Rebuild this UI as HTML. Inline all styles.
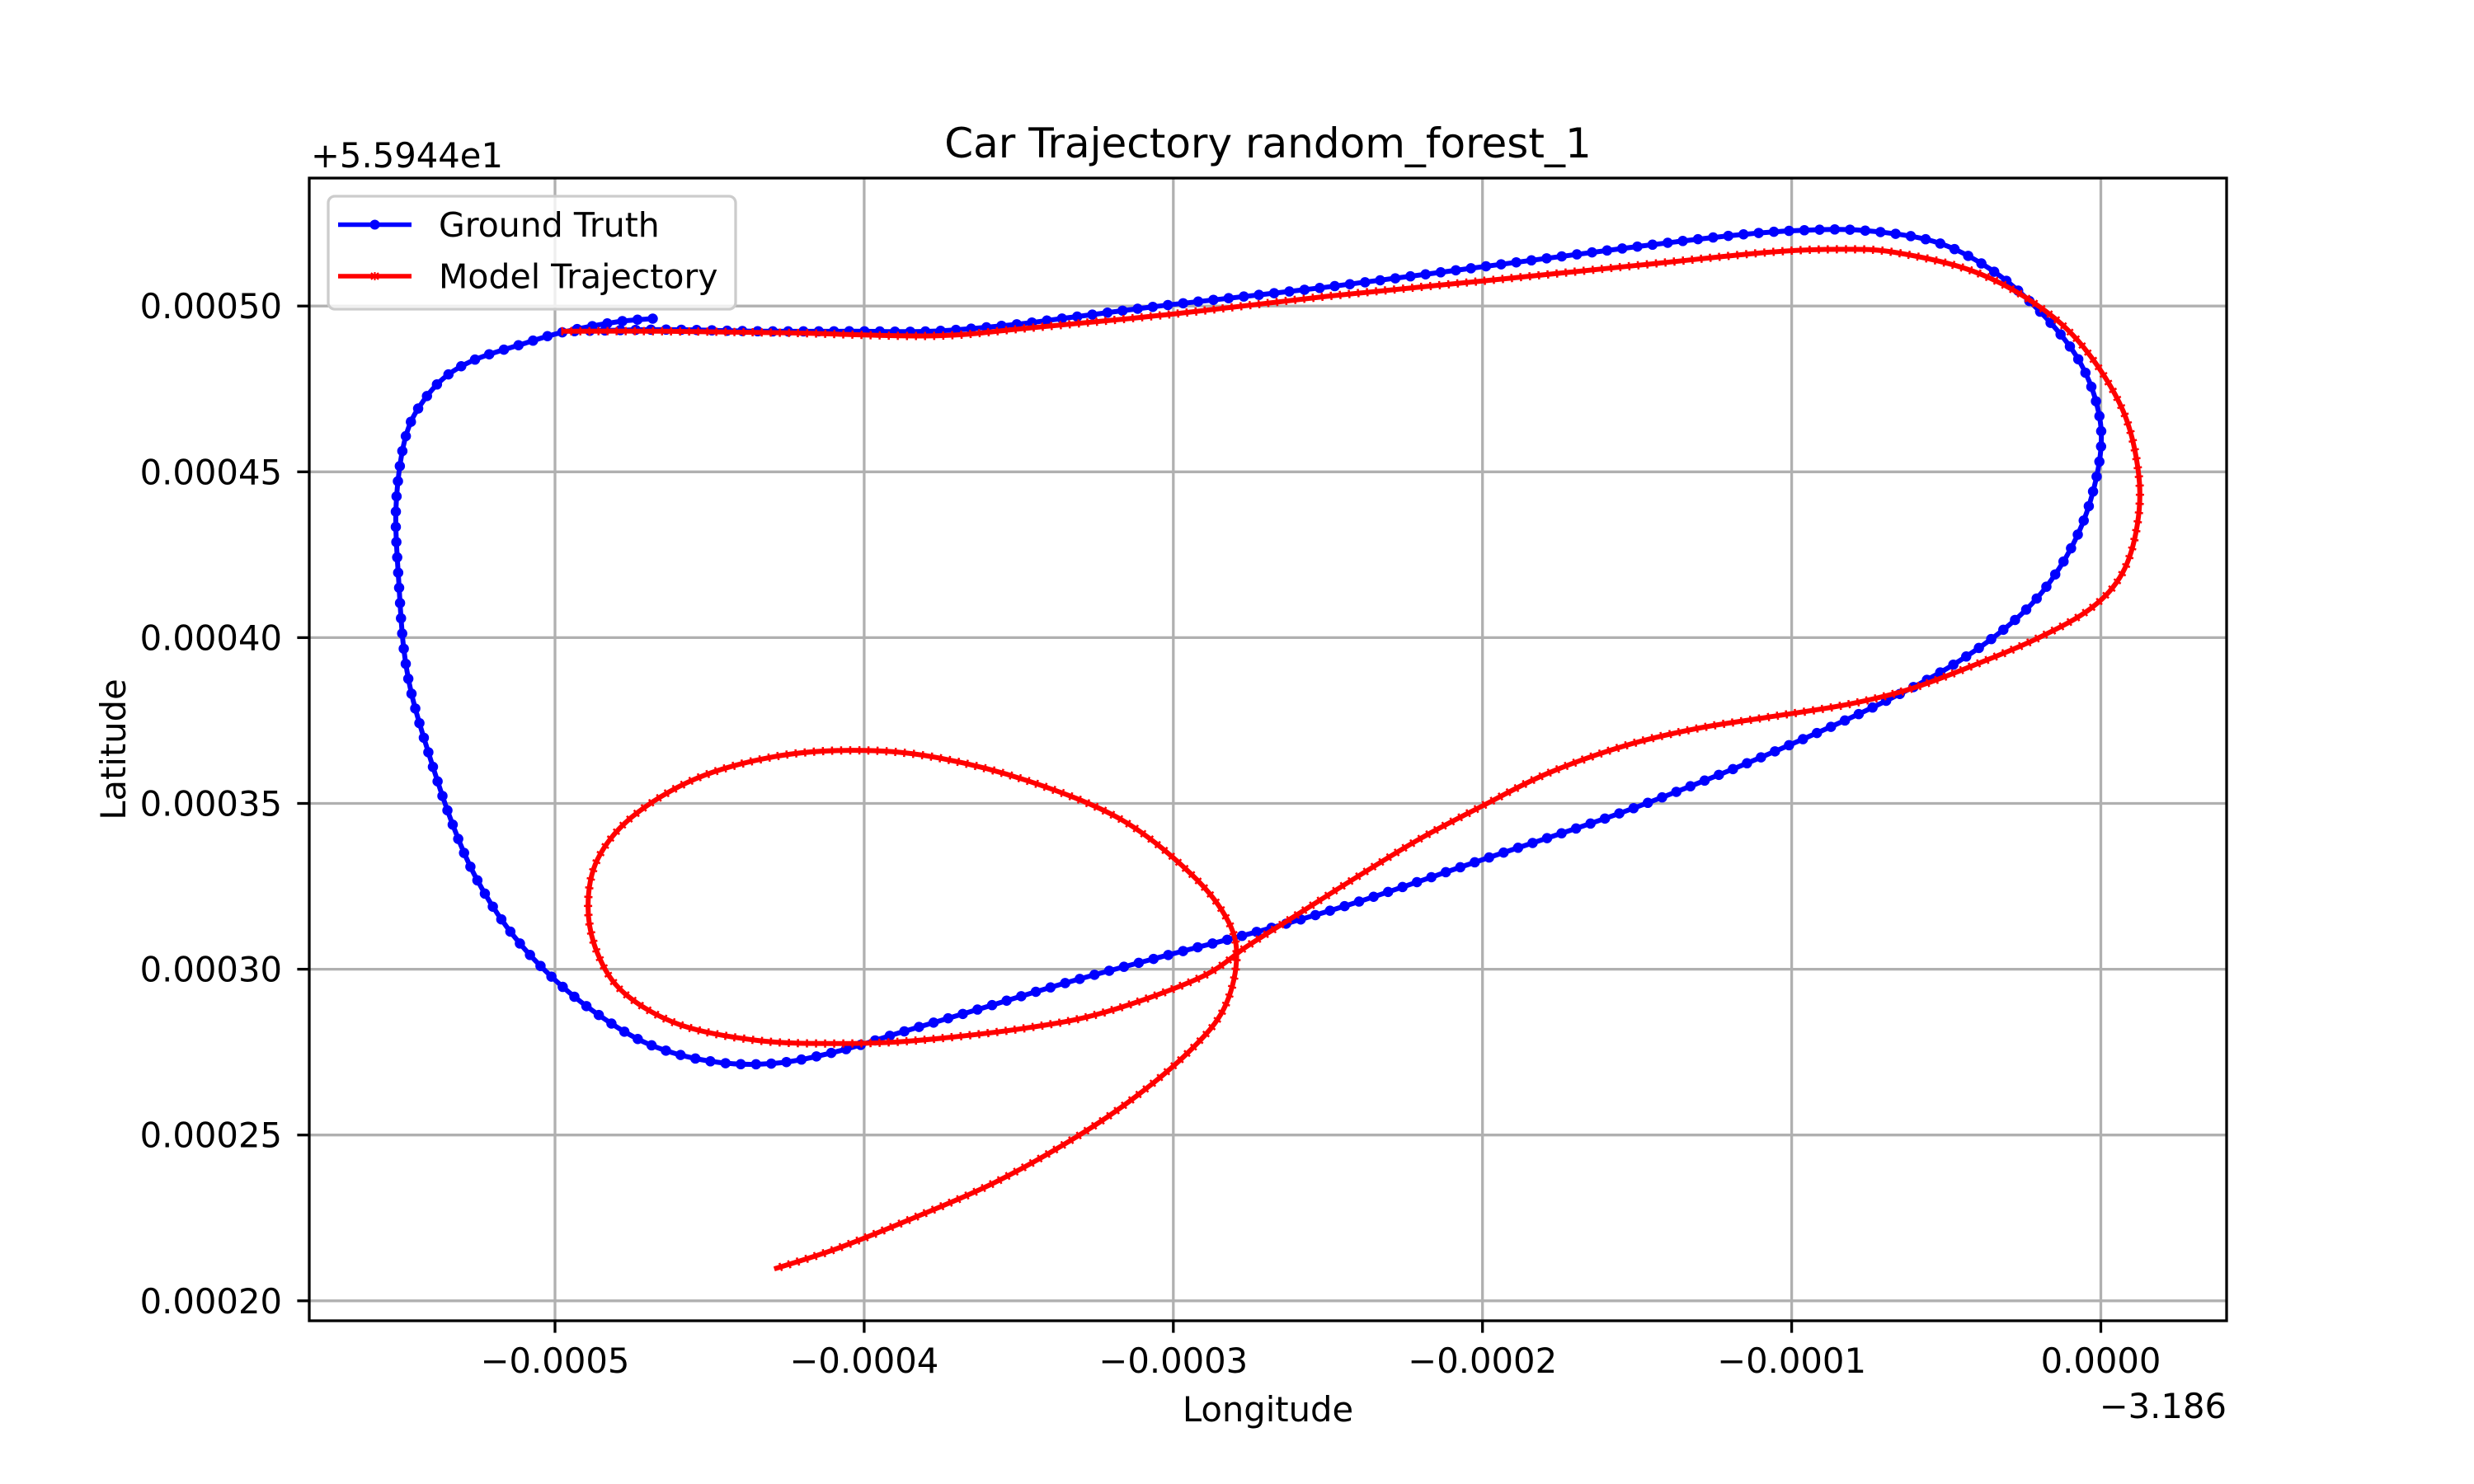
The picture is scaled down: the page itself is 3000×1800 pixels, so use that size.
<!DOCTYPE html>
<html><head><meta charset="utf-8"><title>Car Trajectory random_forest_1</title>
<style>
html,body{margin:0;padding:0;background:#fff;}
svg{display:block;font-family:"DejaVu Sans","Liberation Sans",sans-serif;}
</style></head>
<body>
<svg id="chart" xmlns="http://www.w3.org/2000/svg" width="3000" height="1800" viewBox="0 0 3000 1800">
  <rect width="3000" height="1800" fill="#fff"/>
  <g id="grid"></g>
  <g id="series"></g>
  <rect x="375" y="216" width="2325" height="1386" fill="none" stroke="#000" stroke-width="3.3"/>
  <g id="ticks"></g>
  <text x="1537.5" y="191" font-size="50" text-anchor="middle">Car Trajectory random_forest_1</text>
  <text x="377" y="203" font-size="41.7">+5.5944e1</text>
  <text x="2700" y="1720" font-size="41.7" text-anchor="end">−3.186</text>
  <text x="1537.5" y="1724" font-size="41.7" text-anchor="middle">Longitude</text>
  <text x="0" y="0" font-size="41.7" text-anchor="middle" transform="translate(152,909) rotate(-90)">Latitude</text>
  <g>
    <rect x="398" y="238" width="494" height="137" rx="8" fill="#fff" fill-opacity="0.8" stroke="#cccccc" stroke-width="3.3"/>
    <g>
      <line x1="410" y1="272.5" x2="499" y2="272.5" stroke="#0000ff" stroke-width="5.5"/>
      <circle cx="454.5" cy="272.5" r="6" fill="#0000ff"/>
      <text x="532" y="287" font-size="41">Ground Truth</text>
    </g>
    <g>
      <line x1="410" y1="335" x2="499" y2="335" stroke="#ff0000" stroke-width="5.5"/>
      <path d="M450,331 l9,8 M459,331 l-9,8 M454.5,330 v10" stroke="#ff0000" stroke-width="2"/>
      <text x="532" y="349.5" font-size="41">Model Trajectory</text>
    </g>
  </g>
</svg>
<script>
// Offsets in units of 1e-4 degrees: longitude relative to -3.186, latitude relative to 55.944
const xTicks = [-5, -4, -3, -2, -1, 0];
const xTickLabels = ["−0.0005", "−0.0004", "−0.0003", "−0.0002", "−0.0001", "0.0000"];
const yTicks = [2, 2.5, 3, 3.5, 4, 4.5, 5];
const yTickLabels = ["0.00020", "0.00025", "0.00030", "0.00035", "0.00040", "0.00045", "0.00050"];

const gtLon = [-4.684,-4.801,-4.980,-5.107,-5.260,-5.362,-5.439,-5.480,-5.505,-5.515,-5.505,-5.490,-5.464,-5.413,-5.337,-5.260,-5.158,-5.031,-4.878,-4.699,-4.495,-4.291,-4.087,-3.883,-3.628,-3.321,-3.000,-2.709,-2.403,-1.995,-1.587,-1.281,-1.000,-0.719,-0.464,-0.260,-0.133,-0.046,0.000,-0.015,-0.082,-0.209,-0.362,-0.541,-0.770,-0.974,-1.179,-1.485,-1.995,-2.505,-3.000,-3.321,-3.526,-3.781,-4.036,-4.342,-4.648,-4.954];
const gtLat = [4.962,4.952,4.920,4.885,4.838,4.781,4.696,4.615,4.496,4.354,4.163,3.973,3.831,3.664,3.451,3.284,3.130,2.995,2.875,2.775,2.722,2.716,2.752,2.809,2.880,2.966,3.047,3.118,3.203,3.332,3.460,3.569,3.679,3.798,3.926,4.068,4.211,4.377,4.567,4.710,4.853,4.995,5.114,5.195,5.228,5.228,5.214,5.181,5.119,5.057,5.005,4.967,4.943,4.924,4.924,4.924,4.929,4.924];

const modelLon = [-4.980,-4.648,-4.240,-3.781,-3.474,-3.000,-2.505,-1.995,-1.485,-1.077,-0.847,-0.668,-0.413,-0.209,-0.056,0.071,0.122,0.118,0.070,-0.030,-0.200,-0.413,-0.617,-0.821,-1.077,-1.306,-1.536,-1.791,-1.995,-2.199,-2.403,-2.607,-2.760,-2.913,-3.219,-3.474,-3.832,-4.087,-4.342,-4.597,-4.776,-4.862,-4.893,-4.862,-4.750,-4.546,-4.291,-4.036,-3.781,-3.474,-3.168,-2.939,-2.821,-2.796,-2.837,-2.939,-3.117,-3.321,-3.577,-3.832,-4.087,-4.291];
const modelLat = [4.924,4.924,4.919,4.910,4.933,4.976,5.029,5.076,5.124,5.162,5.171,5.162,5.105,5.005,4.876,4.686,4.496,4.340,4.195,4.090,4.000,3.916,3.845,3.798,3.760,3.726,3.675,3.590,3.495,3.395,3.280,3.160,3.070,2.975,2.871,2.823,2.785,2.776,2.785,2.833,2.928,3.047,3.189,3.332,3.460,3.574,3.641,3.660,3.641,3.569,3.451,3.284,3.142,3.023,2.880,2.761,2.619,2.490,2.357,2.253,2.158,2.096];

const NS = "http://www.w3.org/2000/svg";
const L = 375, R = 2700, T = 216, B = 1602;
function xScale(v){ return 2547.5 + v * 374.9; }
function yScale(v){ return 371.2 - (v - 5) * 402.2; }

const grid = document.getElementById('grid');
const ticks = document.getElementById('ticks');
xTicks.forEach((t, i) => {
  const x = xScale(t);
  const g = document.createElementNS(NS, 'line');
  
  
  g.setAttribute('x1', x); g.setAttribute('x2', x); g.setAttribute('y1', T); g.setAttribute('y2', B);
  g.setAttribute('stroke', '#b0b0b0'); g.setAttribute('stroke-width', '3.3');
  grid.appendChild(g);
  const tk = document.createElementNS(NS, 'line');
  
  
  tk.setAttribute('x1', x); tk.setAttribute('x2', x); tk.setAttribute('y1', B); tk.setAttribute('y2', B + 14.6);
  tk.setAttribute('stroke', '#000'); tk.setAttribute('stroke-width', '3.3');
  ticks.appendChild(tk);
  const tx = document.createElementNS(NS, 'text');
  
  
  tx.setAttribute('x', x); tx.setAttribute('y', 1665); tx.setAttribute('font-size', '41.7');
  tx.setAttribute('text-anchor', 'middle');
  tx.textContent = xTickLabels[i];
  ticks.appendChild(tx);
});
yTicks.forEach((t, i) => {
  const y = yScale(t);
  const g = document.createElementNS(NS, 'line');
  
  
  g.setAttribute('x1', L); g.setAttribute('x2', R); g.setAttribute('y1', y); g.setAttribute('y2', y);
  g.setAttribute('stroke', '#b0b0b0'); g.setAttribute('stroke-width', '3.3');
  grid.appendChild(g);
  const tk = document.createElementNS(NS, 'line');
  
  
  tk.setAttribute('x1', L - 14.6); tk.setAttribute('x2', L); tk.setAttribute('y1', y); tk.setAttribute('y2', y);
  tk.setAttribute('stroke', '#000'); tk.setAttribute('stroke-width', '3.3');
  ticks.appendChild(tk);
  const tx = document.createElementNS(NS, 'text');
  
  
  tx.setAttribute('x', 342); tx.setAttribute('y', y + 15); tx.setAttribute('font-size', '41.7');
  tx.setAttribute('text-anchor', 'end');
  tx.textContent = yTickLabels[i];
  ticks.appendChild(tx);
});

function smoothPath(xs, ys){
  const p = xs.map((v, i) => [xScale(v), yScale(ys[i])]);
  let d = 'M' + p[0][0].toFixed(1) + ',' + p[0][1].toFixed(1);
  for (let i = 0; i < p.length - 1; i++){
    const p0 = p[Math.max(0, i - 1)], p1 = p[i], p2 = p[i + 1], p3 = p[Math.min(p.length - 1, i + 2)];
    const c1 = [p1[0] + (p2[0] - p0[0]) / 6, p1[1] + (p2[1] - p0[1]) / 6];
    const c2 = [p2[0] - (p3[0] - p1[0]) / 6, p2[1] - (p3[1] - p1[1]) / 6];
    d += ' C' + c1[0].toFixed(1) + ',' + c1[1].toFixed(1) + ' ' + c2[0].toFixed(1) + ',' + c2[1].toFixed(1) + ' ' + p2[0].toFixed(1) + ',' + p2[1].toFixed(1);
  }
  return d;
}
const series = document.getElementById('series');
function addPath(d, name, stroke, width, dash, cap){
  const el = document.createElementNS(NS, 'path');
  
  
  el.setAttribute('d', d);
  el.setAttribute('fill', 'none');
  el.setAttribute('stroke', stroke);
  el.setAttribute('stroke-width', width);
  el.setAttribute('stroke-linejoin', 'round');
  if (dash) el.setAttribute('stroke-dasharray', dash);
  if (cap) el.setAttribute('stroke-linecap', cap);
  series.appendChild(el);
}
const gd = smoothPath(gtLon, gtLat);
addPath(gd, 'ground-truth-line', '#0000ff', 6, null, null);
addPath(gd, 'ground-truth-markers', '#0000ff', 12.5, '0 18.5', 'round');
const md = smoothPath(modelLon, modelLat);
addPath(md, 'model-trajectory-line', '#ff0000', 6, null, null);
addPath(md, 'model-trajectory-markers', '#ff0000', 10, '2.5 8.5', 'butt');
</script>
</body></html>
